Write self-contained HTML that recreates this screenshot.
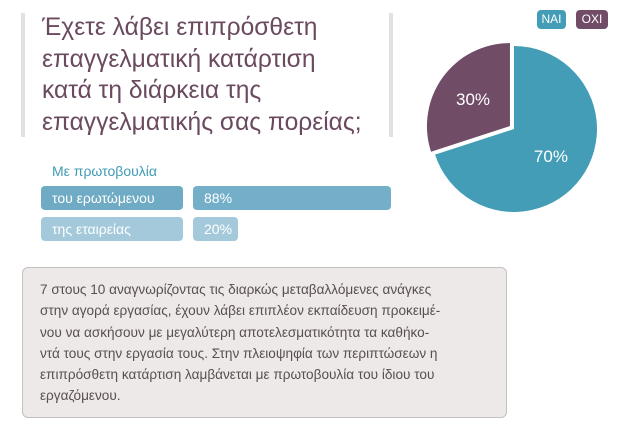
<!DOCTYPE html>
<html><head><meta charset="utf-8"><style>
body{margin:0;width:643px;height:430px;background:#fff;position:relative;overflow:hidden;font-family:"Liberation Sans","DejaVu Sans",sans-serif}
.abs{position:absolute}
.t{left:42px;top:12px;font-size:24.6px;line-height:31.5px;color:#6a4a5f;white-space:nowrap}
.bar{position:absolute;border-radius:4px;color:#fff;font-size:14px;line-height:24px;padding-left:11px;box-sizing:border-box;white-space:nowrap}
.box{left:22px;top:267px;width:485px;height:151px;background:#ece9e8;border:1px solid #c4c0bf;border-radius:6px;box-sizing:border-box}
.bt{left:40px;top:279px;font-size:13.6px;line-height:21.3px;color:#5a4f50;white-space:nowrap}
</style></head><body>
<div class="abs" style="left:21px;top:13px;width:4px;height:124px;background:#e4e0df"></div>
<div class="abs" style="left:389px;top:13px;width:4px;height:124px;background:#e4e0df"></div>
<div class="abs t">Έχετε λάβει επιπρόσθετη<br>επαγγελματική κατάρτιση<br>κατά τη διάρκεια της<br>επαγγελματικής σας πορείας;</div>
<div class="abs" style="left:52px;top:163px;font-size:14px;color:#3f9bb5">Με πρωτοβουλία</div>
<div class="bar" style="left:41px;top:186px;width:142px;height:24px;background:#6fabc4">του ερωτώμενου</div>
<div class="bar" id="v1" style="left:193px;top:186px;height:24px;background:#73afc8"></div>
<div class="bar" style="left:41px;top:217px;width:142px;height:24px;background:#a4c9da">της εταιρείας</div>
<div class="bar" id="v2" style="left:193px;top:217px;height:24px;background:#a4c9da"></div>
<div class="abs" style="left:537px;top:10px;width:29px;height:19px;background:#449db7;border-radius:4px;color:#fff;font-size:12px;line-height:19px;text-align:center">NAI</div>
<div class="abs" style="left:576px;top:10px;width:32px;height:19px;background:#704c67;border-radius:4px;color:#fff;font-size:12px;line-height:19px;text-align:center">OXI</div>
<svg class="abs" style="left:0;top:0" width="643" height="430" id="pie"></svg>
<div class="abs box"></div>
<div class="abs bt">7 στους 10 αναγνωρίζοντας τις διαρκώς μεταβαλλόμενες ανάγκες<br>στην αγορά εργασίας, έχουν λάβει επιπλέον εκπαίδευση προκειμέ-<br>νου να ασκήσουν με μεγαλύτερη αποτελεσματικότητα τα καθήκο-<br>ντά τους στην εργασία τους.  Στην πλειοψηφία των περιπτώσεων η<br>επιπρόσθετη κατάρτιση λαμβάνεται με πρωτοβουλία του ίδιου του<br>εργαζόμενου.</div>
<script>
const barValues=[88,20];
const pieLabels=["NAI","OXI"];
const pieValues=[70,30];
const barMax=100, barFull=225;
[document.getElementById('v1'),document.getElementById('v2')].forEach((el,i)=>{
  el.style.width=Math.max(barValues[i]/barMax*barFull,30)+'px';
  el.textContent=barValues[i]+'%';
});
const svg=document.getElementById('pie');
const ns='http://www.w3.org/2000/svg';
const cx=514,cy=129,r=83,colors=['#449db7','#704c67'];
const total=pieValues.reduce((a,b)=>a+b,0);
let a0=0;
pieValues.forEach((v,i)=>{
  const a1=a0+v/total*2*Math.PI;
  const mid=(a0+a1)/2;
  const off=i===1?5:0;
  const ox=cx+off*Math.sin(mid), oy=cy-off*Math.cos(mid);
  const p=(a)=>[ox+r*Math.sin(a), oy-r*Math.cos(a)];
  const [x0,y0]=p(a0),[x1,y1]=p(a1);
  const path=document.createElementNS(ns,'path');
  path.setAttribute('d',`M${ox},${oy}L${x0},${y0}A${r},${r} 0 ${a1-a0>Math.PI?1:0} 1 ${x1},${y1}Z`);
  path.setAttribute('fill',colors[i]);
  
  
  svg.appendChild(path);
  const t=document.createElementNS(ns,'text');
  t.setAttribute('x',ox+r*0.55*Math.sin(mid));
  t.setAttribute('y',oy-r*0.55*Math.cos(mid)+6);
  t.setAttribute('text-anchor','middle');
  t.setAttribute('fill','#fff');
  t.setAttribute('font-size','17');
  t.setAttribute('font-family','Liberation Sans, sans-serif');
  t.textContent=v+'%';
  
  
  svg.appendChild(t);
  a0=a1;
});
</script>
</body></html>
